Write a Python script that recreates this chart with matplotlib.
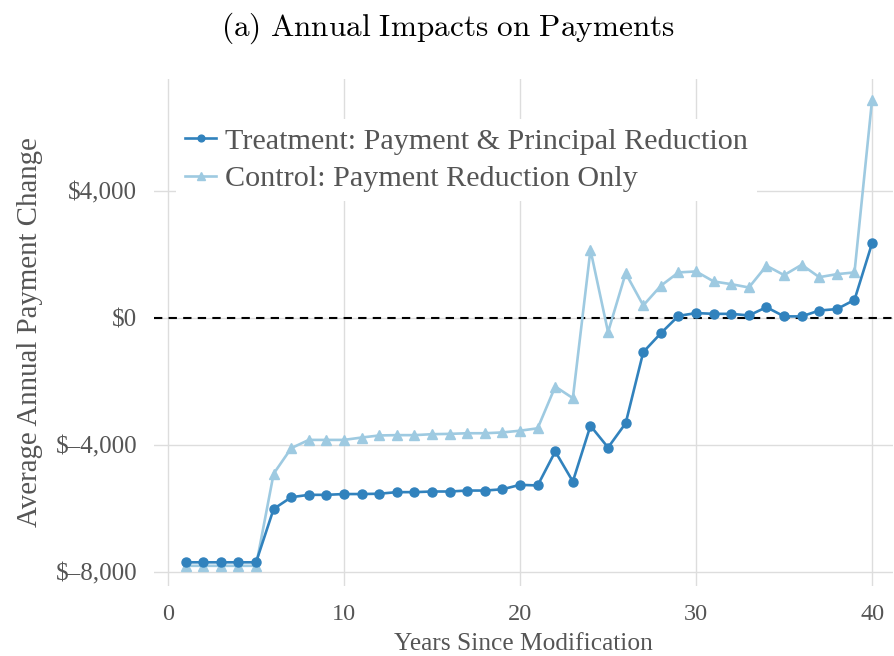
import matplotlib
matplotlib.use("Agg")
import matplotlib.pyplot as plt
from matplotlib.ticker import FuncFormatter

# ---------------------------------------------------------
# Dados
# ---------------------------------------------------------
years = list(range(1, 41))

treatment = [
    -7700, -7700, -7700, -7700, -7700,
    -6020, -5650, -5575, -5575, -5550,
    -5550, -5540, -5490, -5490, -5470,
    -5470, -5440, -5440, -5400, -5260,
    -5280, -4210, -5155, -3400, -4085,
    -3320, -1080, -485, 60, 150,
    125, 125, 75, 335, 45,
    45, 230, 275, 565, 2350,
]

control = [
    -7810, -7810, -7810, -7810, -7810,
    -4910, -4105, -3845, -3845, -3845,
    -3770, -3705, -3695, -3695, -3665,
    -3655, -3635, -3635, -3610, -3555,
    -3480, -2165, -2530, 2140, -450,
    1405, 390, 1010, 1430, 1460,
    1145, 1060, 955, 1640, 1345,
    1670, 1280, 1375, 1430, 6870,
]

y_ticks = [-8000, -4000, 0, 4000]
x_ticks = [0, 10, 20, 30, 40]

TREAT_COLOR = "#3182bd"
CONTROL_COLOR = "#9ecae1"
TEXT_COLOR = "#555555"
GRID_COLOR = "#dddddd"

plt.rcParams["font.family"] = ["Liberation Serif", "DejaVu Serif"]
plt.rcParams["mathtext.fontset"] = "cm"


def dollar(v, pos=None):
    if v < 0:
        return "$\u2013{:,.0f}".format(-v)
    return "${:,.0f}".format(v)


def main() -> None:
    fig, ax = plt.subplots(figsize=(8.95, 6.56), dpi=100)
    fig.subplots_adjust(left=0.172, right=0.998, top=0.880, bottom=0.107)

    ax.plot(years, treatment, color=TREAT_COLOR, lw=1.9, marker="o", ms=6.5,
            label="Treatment: Payment & Principal Reduction", zorder=3)
    ax.plot(years, control, color=CONTROL_COLOR, lw=1.9, marker="^", ms=7.5,
            label="Control: Payment Reduction Only", zorder=2)
    ax.axhline(0, color="black", lw=1.5, ls=(0, (4, 3)), zorder=1)

    ax.set_xlim(-0.8, 41.2)
    ax.set_ylim(-8440, 7530)
    ax.set_xticks(x_ticks)
    ax.set_yticks(y_ticks)
    ax.yaxis.set_major_formatter(FuncFormatter(dollar))

    ax.grid(True, color=GRID_COLOR, lw=1.0, zorder=0)
    ax.set_axisbelow(True)
    for s in ax.spines.values():
        s.set_visible(False)
    ax.tick_params(axis="y", length=0, labelsize=18, colors=TEXT_COLOR, pad=12)
    ax.tick_params(axis="x", length=0, labelsize=17.5, colors=TEXT_COLOR, pad=13)

    ax.set_xlabel("Years Since Modification", fontsize=18.3, color=TEXT_COLOR, labelpad=6)
    ax.set_ylabel("Average Annual Payment Change", fontsize=20.8, color=TEXT_COLOR, labelpad=9)

    fig.suptitle(r"$\mathrm{(a)\ Annual\ Impacts\ on\ Payments}$", fontsize=22.5,
                 y=0.984, color="black")

    leg = ax.legend(loc="upper left", bbox_to_anchor=(0.01, 0.951), fontsize=21.7,
                    frameon=True, facecolor="white", edgecolor="none", framealpha=1,
                    handlelength=1.0, handletextpad=0.3, labelspacing=0.35,
                    borderpad=0.3, markerscale=0.75)
    for t in leg.get_texts():
        t.set_color(TEXT_COLOR)

    fig.savefig("out.png", dpi=100)
    plt.close(fig)


if __name__ == "__main__":
    main()
